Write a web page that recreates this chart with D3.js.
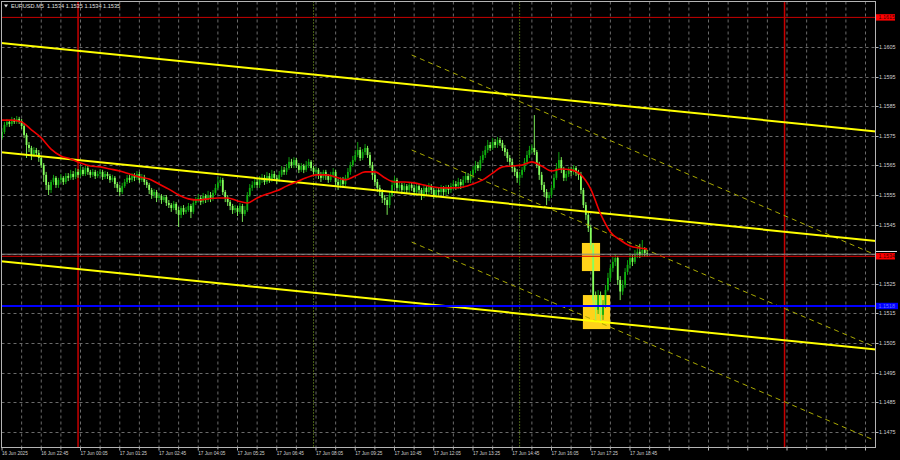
<!DOCTYPE html>
<html><head><meta charset="utf-8">
<script src="https://cdn.jsdelivr.net/npm/d3@7"></script>
<style>html,body{margin:0;padding:0;background:#000;}svg{display:block}</style>
</head><body>
<svg id="c" width="900" height="460"></svg>
<script>
const symbolTitle = "EURUSD.M5  1.1534 1.1535 1.1534 1.1535";
const firstOpen = 1.15743;
const closes = [
1.15763,1.15787,1.15797,1.15790,1.15803,1.15797,1.15807,1.15800,
1.15783,1.15753,1.15719,1.15709,1.15685,1.15702,1.15692,1.15675,
1.15651,1.15618,1.15584,1.15567,1.15594,1.15608,1.15584,1.15601,
1.15608,1.15594,1.15614,1.15608,1.15621,1.15611,1.15628,1.15618,
1.15635,1.15621,1.15641,1.15628,1.15618,1.15628,1.15614,1.15621,
1.15628,1.15611,1.15621,1.15614,1.15601,1.15608,1.15587,1.15574,
1.15560,1.15580,1.15594,1.15608,1.15601,1.15614,1.15608,1.15621,
1.15601,1.15611,1.15594,1.15584,1.15567,1.15550,1.15560,1.15540,
1.15547,1.15533,1.15543,1.15523,1.15516,1.15506,1.15520,1.15499,
1.15483,1.15506,1.15493,1.15499,1.15513,1.15493,1.15523,1.15533,
1.15540,1.15526,1.15547,1.15533,1.15550,1.15537,1.15557,1.15574,
1.15591,1.15601,1.15560,1.15540,1.15526,1.15513,1.15499,1.15506,
1.15493,1.15513,1.15486,1.15499,1.15550,1.15574,1.15584,1.15594,
1.15584,1.15601,1.15608,1.15594,1.15614,1.15601,1.15621,1.15608,
1.15601,1.15618,1.15635,1.15628,1.15641,1.15662,1.15651,1.15668,
1.15651,1.15635,1.15648,1.15635,1.15651,1.15662,1.15641,1.15628,
1.15635,1.15618,1.15608,1.15628,1.15614,1.15601,1.15618,1.15628,
1.15594,1.15584,1.15601,1.15587,1.15608,1.15628,1.15651,1.15668,
1.15685,1.15702,1.15675,1.15695,1.15709,1.15685,1.15651,1.15618,
1.15594,1.15574,1.15560,1.15540,1.15533,1.15516,1.15550,1.15584,
1.15601,1.15574,1.15584,1.15567,1.15580,1.15567,1.15584,1.15574,
1.15560,1.15580,1.15567,1.15550,1.15574,1.15560,1.15580,1.15567,
1.15550,1.15567,1.15560,1.15574,1.15560,1.15574,1.15567,1.15580,
1.15587,1.15580,1.15594,1.15584,1.15601,1.15614,1.15601,1.15618,
1.15635,1.15651,1.15641,1.15668,1.15685,1.15702,1.15719,1.15709,
1.15729,1.15719,1.15736,1.15726,1.15709,1.15695,1.15675,1.15662,
1.15641,1.15628,1.15608,1.15618,1.15635,1.15662,1.15685,1.15702,
1.15709,1.15695,1.15651,1.15618,1.15584,1.15560,1.15540,1.15550,
1.15574,1.15608,1.15641,1.15668,1.15635,1.15608,1.15621,1.15635,
1.15628,1.15641,1.15624,1.15618,1.15567,1.15516,1.15483,1.15439,
1.15381,1.15195,1.15162,1.15212,1.15145,1.15179,1.15229,1.15270,
1.15303,1.15324,1.15337,1.15263,1.15224,1.15246,1.15290,1.15314,
1.15337,1.15324,1.15347,1.15358,1.15347,1.15364,1.15354,1.15351];
const highs = [
1.15776,1.15797,1.15807,1.15803,1.15814,1.15810,1.15817,1.15814,
1.15807,1.15790,1.15759,1.15729,1.15716,1.15712,1.15709,1.15702,
1.15682,1.15658,1.15628,1.15594,1.15601,1.15618,1.15614,1.15608,
1.15621,1.15614,1.15624,1.15624,1.15635,1.15631,1.15641,1.15638,
1.15648,1.15645,1.15651,1.15651,1.15635,1.15638,1.15635,1.15631,
1.15638,1.15635,1.15631,1.15628,1.15621,1.15618,1.15614,1.15594,
1.15584,1.15591,1.15604,1.15618,1.15618,1.15624,1.15624,1.15631,
1.15628,1.15621,1.15618,1.15601,1.15591,1.15574,1.15570,1.15567,
1.15557,1.15553,1.15550,1.15550,1.15533,1.15523,1.15530,1.15526,
1.15510,1.15513,1.15516,1.15510,1.15523,1.15520,1.15533,1.15543,
1.15553,1.15547,1.15557,1.15553,1.15564,1.15560,1.15567,1.15587,
1.15611,1.15611,1.15608,1.15567,1.15550,1.15533,1.15520,1.15516,
1.15513,1.15523,1.15520,1.15513,1.15560,1.15587,1.15597,1.15608,
1.15604,1.15614,1.15621,1.15618,1.15628,1.15624,1.15635,1.15631,
1.15618,1.15631,1.15648,1.15645,1.15655,1.15678,1.15672,1.15678,
1.15675,1.15658,1.15658,1.15655,1.15665,1.15672,1.15668,1.15648,
1.15645,1.15641,1.15628,1.15635,1.15635,1.15621,1.15628,1.15641,
1.15635,1.15604,1.15611,1.15611,1.15618,1.15641,1.15662,1.15682,
1.15702,1.15729,1.15712,1.15705,1.15722,1.15716,1.15695,1.15662,
1.15628,1.15604,1.15584,1.15570,1.15550,1.15543,1.15560,1.15601,
1.15614,1.15608,1.15594,1.15591,1.15591,1.15587,1.15594,1.15594,
1.15584,1.15591,1.15587,1.15574,1.15584,1.15580,1.15591,1.15587,
1.15574,1.15577,1.15577,1.15584,1.15580,1.15584,1.15584,1.15591,
1.15601,1.15597,1.15608,1.15604,1.15614,1.15628,1.15624,1.15631,
1.15648,1.15665,1.15662,1.15682,1.15699,1.15716,1.15736,1.15729,
1.15743,1.15739,1.15746,1.15743,1.15736,1.15719,1.15705,1.15685,
1.15672,1.15651,1.15638,1.15628,1.15645,1.15675,1.15699,1.15716,
1.15722,1.15820,1.15702,1.15662,1.15628,1.15594,1.15570,1.15560,
1.15584,1.15621,1.15658,1.15695,1.15678,1.15645,1.15631,1.15645,
1.15645,1.15651,1.15648,1.15635,1.15628,1.15574,1.15526,1.15493,
1.15449,1.15388,1.15224,1.15229,1.15224,1.15195,1.15246,1.15287,
1.15317,1.15341,1.15351,1.15344,1.15276,1.15263,1.15303,1.15330,
1.15354,1.15347,1.15364,1.15371,1.15385,1.15398,1.15374,1.15364];
const lows = [
1.15736,1.15756,1.15780,1.15780,1.15783,1.15790,1.15790,1.15790,
1.15773,1.15743,1.15675,1.15695,1.15668,1.15678,1.15682,1.15662,
1.15641,1.15594,1.15567,1.15550,1.15557,1.15584,1.15574,1.15574,
1.15591,1.15584,1.15587,1.15597,1.15601,1.15601,1.15604,1.15608,
1.15611,1.15614,1.15614,1.15618,1.15608,1.15611,1.15604,1.15608,
1.15614,1.15601,1.15604,1.15604,1.15591,1.15594,1.15574,1.15560,
1.15547,1.15553,1.15574,1.15587,1.15591,1.15594,1.15597,1.15601,
1.15591,1.15594,1.15584,1.15574,1.15553,1.15537,1.15540,1.15526,
1.15533,1.15520,1.15526,1.15513,1.15506,1.15493,1.15499,1.15486,
1.15442,1.15472,1.15483,1.15486,1.15493,1.15472,1.15486,1.15516,
1.15526,1.15516,1.15520,1.15523,1.15526,1.15526,1.15530,1.15550,
1.15567,1.15580,1.15550,1.15526,1.15513,1.15499,1.15486,1.15489,
1.15479,1.15486,1.15459,1.15479,1.15493,1.15543,1.15564,1.15574,
1.15574,1.15574,1.15591,1.15584,1.15587,1.15591,1.15594,1.15597,
1.15587,1.15594,1.15611,1.15618,1.15618,1.15635,1.15641,1.15641,
1.15641,1.15624,1.15628,1.15624,1.15628,1.15641,1.15631,1.15618,
1.15614,1.15604,1.15594,1.15601,1.15601,1.15591,1.15594,1.15608,
1.15580,1.15567,1.15574,1.15574,1.15580,1.15601,1.15618,1.15645,
1.15662,1.15678,1.15665,1.15668,1.15685,1.15675,1.15641,1.15601,
1.15580,1.15560,1.15547,1.15523,1.15516,1.15483,1.15506,1.15543,
1.15574,1.15560,1.15564,1.15553,1.15557,1.15553,1.15557,1.15564,
1.15547,1.15550,1.15553,1.15533,1.15540,1.15547,1.15550,1.15553,
1.15537,1.15540,1.15547,1.15550,1.15547,1.15550,1.15553,1.15557,
1.15567,1.15567,1.15570,1.15570,1.15574,1.15591,1.15591,1.15591,
1.15608,1.15624,1.15631,1.15631,1.15658,1.15675,1.15692,1.15699,
1.15702,1.15709,1.15709,1.15716,1.15699,1.15682,1.15662,1.15648,
1.15628,1.15614,1.15591,1.15584,1.15608,1.15628,1.15651,1.15675,
1.15692,1.15685,1.15641,1.15601,1.15567,1.15543,1.15516,1.15530,
1.15540,1.15567,1.15601,1.15635,1.15624,1.15597,1.15597,1.15611,
1.15614,1.15618,1.15614,1.15601,1.15553,1.15506,1.15466,1.15425,
1.15364,1.15179,1.15128,1.15148,1.15121,1.15128,1.15168,1.15224,
1.15256,1.15290,1.15310,1.15246,1.15195,1.15212,1.15236,1.15280,
1.15303,1.15310,1.15317,1.15337,1.15337,1.15341,1.15341,1.15341];
// moving average read every 4 bars (last point = final bar)
const maValues = [
1.15803,1.15803,1.15797,1.15770,1.15743,1.15705,1.15682,1.15672,1.15658,1.15648,
1.15645,1.15638,1.15631,1.15621,1.15611,1.15604,1.15587,1.15570,1.15550,1.15537,
1.15533,1.15537,1.15540,1.15540,1.15530,1.15523,1.15540,1.15553,1.15564,1.15580,
1.15594,1.15608,1.15618,1.15618,1.15611,1.15601,1.15614,1.15628,1.15628,1.15608,
1.15594,1.15594,1.15591,1.15584,1.15577,1.15574,1.15574,1.15577,1.15587,1.15601,
1.15624,1.15645,1.15648,1.15651,1.15662,1.15648,1.15631,1.15638,1.15635,1.15618,
1.15570,1.15486,1.15425,1.15398,1.15378,1.15371,1.15368];
const timeLabels = ["16 Jun 2025","16 Jun 22:45","17 Jun 00:05","17 Jun 01:25","17 Jun 02:45","17 Jun 04:05","17 Jun 05:25","17 Jun 06:45","17 Jun 08:05","17 Jun 09:25","17 Jun 10:45","17 Jun 12:05","17 Jun 13:25","17 Jun 14:45","17 Jun 16:05","17 Jun 17:25","17 Jun 18:45"];
const priceTicks = [1.1605,1.1595,1.1585,1.1575,1.1565,1.1555,1.1545,1.1535,1.1525,1.1515,1.1505,1.1495,1.1485,1.1475];
const hiddenPriceLabel = 1.1535; // covered by the current-price label in the reference
const daySeparatorBars = [31, 319];
const sessionBars = [127, 211];
const solidChannel = [[0,1.16063,356,1.15765],[0,1.15694,356,1.15395],[0,1.15326,356,1.15028]];
const dashedChannel = [[167,1.16023,356.3,1.15347],[167,1.15702,356.3,1.15035],[167,1.15391,356.3,1.14719]];
const zones = [[236.4,243.8,1.15388,1.15293],[236.8,247.9,1.15212,1.15097]];
const topLevel = 1.1615, topLevelLabel = "1.1615";
const bidLevel = 1.15343, bidLabel = "1.1534";
const askLevel = 1.1535;
const supportLevel = 1.15175, supportLabel = "1.1518";

const W = 900, H = 460, L = 1.5, R = 875.5, T = 1.5, B = 447.5;
const x = d3.scaleLinear().domain([0, 288]).range([2, 708.5]);
const y = d3.scaleLinear().domain([1.1605, 1.1475]).range([47, 431.8]);
const FONT = "'Liberation Sans', Arial, sans-serif";
const svg = d3.select('#c');
svg.append('rect').attr('width', W).attr('height', H).attr('fill', '#000');
svg.append('defs').append('clipPath').attr('id', 'clip').append('rect')
  .attr('x', L).attr('y', T).attr('width', R - L).attr('height', B - T);
const g = svg.append('g').attr('clip-path', 'url(#clip)');

// grid
g.selectAll('.hg').data(priceTicks).join('line')
  .attr('x1', L).attr('x2', R).attr('y1', d => Math.round(y(d)) + 0.5).attr('y2', d => Math.round(y(d)) + 0.5)
  .attr('stroke', '#6a6a6a').attr('stroke-width', 1).attr('stroke-dasharray', '3,3');
const vGrid = d3.range(8, 360, 8);
g.selectAll('.vg').data(vGrid).join('line')
  .attr('x1', d => x(d)).attr('x2', d => x(d)).attr('y1', T).attr('y2', B)
  .attr('stroke', '#6a6a6a').attr('stroke-width', 1).attr('stroke-dasharray', '3,3');

// session markers
g.selectAll('.ss').data(sessionBars).join('line')
  .attr('x1', d => x(d)).attr('x2', d => x(d)).attr('y1', T).attr('y2', B)
  .attr('stroke', '#8fbf2a').attr('stroke-width', 1).attr('stroke-dasharray', '1,2');
// day separators
g.selectAll('.ds').data(daySeparatorBars).join('line')
  .attr('x1', d => x(d)).attr('x2', d => x(d)).attr('y1', T).attr('y2', B)
  .attr('stroke', '#c80000').attr('stroke-width', 1.5);

// zones
g.selectAll('.zn').data(zones).join('rect')
  .attr('x', d => x(d[0])).attr('width', d => x(d[1]) - x(d[0]))
  .attr('y', d => y(d[2])).attr('height', d => y(d[3]) - y(d[2]))
  .attr('fill', '#ffd21a');

// top level line
g.append('line').attr('x1', L).attr('x2', R).attr('y1', y(topLevel)).attr('y2', y(topLevel))
  .attr('stroke', '#c80000').attr('stroke-width', 1);

// candles
const bars = closes.map((c, i) => ({ i, o: i === 0 ? firstOpen : closes[i - 1], c, h: highs[i], l: lows[i] }));
const BULL = '#0fae0f', BEAR = '#86ff5e';
const cg = g.append('g');
cg.selectAll('.wk').data(bars).join('line')
  .attr('x1', d => x(d.i)).attr('x2', d => x(d.i)).attr('y1', d => y(d.h)).attr('y2', d => y(d.l))
  .attr('stroke', d => d.c >= d.o ? BULL : BEAR).attr('stroke-width', 0.9);
cg.selectAll('.bd').data(bars).join('rect')
  .attr('x', d => x(d.i) - 0.9).attr('width', 1.8)
  .attr('y', d => y(Math.max(d.o, d.c)))
  .attr('height', d => Math.max(0.7, Math.abs(y(d.o) - y(d.c))))
  .attr('fill', d => d.c >= d.o ? BULL : BEAR);

// dashed channel
g.selectAll('.dc').data(dashedChannel).join('line')
  .attr('x1', d => x(d[0])).attr('y1', d => y(d[1])).attr('x2', d => x(d[2])).attr('y2', d => y(d[3]))
  .attr('stroke', '#a8a800').attr('stroke-width', 1).attr('stroke-dasharray', '5,4');
// solid channel
g.selectAll('.sc').data(solidChannel).join('line')
  .attr('x1', d => x(d[0] - 2)).attr('y1', d => y(d[1] + (d[1] - d[3]) / (d[2] - d[0]) * 2))
  .attr('x2', d => x(d[2] + 2)).attr('y2', d => y(d[3] - (d[1] - d[3]) / (d[2] - d[0]) * 2))
  .attr('stroke', '#ffff00').attr('stroke-width', 2);

// moving average
const maBars = d3.range(0, 261, 4).concat([closes.length - 1]);
const maPts = maValues.map((v, k) => [maBars[k], v]);
g.append('path').datum(maPts)
  .attr('d', d3.line().x(d => x(d[0])).y(d => y(d[1])).curve(d3.curveMonotoneX))
  .attr('fill', 'none').attr('stroke', '#f00000').attr('stroke-width', 1.6);

// support and price lines
g.append('line').attr('x1', L).attr('x2', R).attr('y1', y(supportLevel)).attr('y2', y(supportLevel))
  .attr('stroke', '#0000ff').attr('stroke-width', 2.2);
g.append('line').attr('x1', L).attr('x2', R).attr('y1', y(askLevel)).attr('y2', y(askLevel))
  .attr('stroke', '#8a8a8a').attr('stroke-width', 1);
g.append('line').attr('x1', L).attr('x2', R).attr('y1', y(bidLevel)).attr('y2', y(bidLevel))
  .attr('stroke', '#e00000').attr('stroke-width', 1);

// frame
svg.append('rect').attr('x', L).attr('y', T).attr('width', R - L).attr('height', B - T)
  .attr('fill', 'none').attr('stroke', '#b4b4b4').attr('stroke-width', 1);

// price axis
svg.selectAll('.pt').data(priceTicks).join('line')
  .attr('x1', R).attr('x2', R + 3).attr('y1', d => Math.round(y(d)) + 0.5).attr('y2', d => Math.round(y(d)) + 0.5)
  .attr('stroke', '#b4b4b4');
svg.selectAll('.pl').data(priceTicks.filter(d => d !== hiddenPriceLabel)).join('text')
  .attr('x', 879).attr('y', d => y(d) + 2).text(d => d.toFixed(4))
  .attr('fill', '#d0d0d0').attr('font-size', 5.4).attr('font-family', FONT);

// time axis
svg.selectAll('.tt').data(vGrid.filter(d => x(d) < R).concat([0])).join('line')
  .attr('x1', d => x(d)).attr('x2', d => x(d)).attr('y1', B).attr('y2', d => d % 16 === 0 ? B + 3 : B + 2)
  .attr('stroke', '#b4b4b4');
svg.selectAll('.tl').data(timeLabels).join('text')
  .attr('x', (d, k) => x(k * 16)).attr('y', 455).text(d => d)
  .attr('fill', '#d0d0d0').attr('font-size', 4.7).attr('font-family', FONT);

// price labels on axis
function axisLabel(p, txt, bg, fg, w) {
  const yy = y(p);
  svg.append('rect').attr('x', 876).attr('y', yy - 3.2).attr('width', w).attr('height', 6.4).attr('fill', bg);
  svg.append('text').attr('x', 878.5).attr('y', yy + 2).text(txt)
    .attr('fill', fg).attr('font-size', 5.4).attr('font-family', FONT);
}
svg.append('line').attr('x1', 876).attr('x2', 897).attr('y1', y(bidLevel) - 4.8).attr('y2', y(bidLevel) - 4.8)
  .attr('stroke', '#e8e8e8').attr('stroke-width', 1);
axisLabel(topLevel, topLevelLabel, '#ff0000', '#400000', 19);
axisLabel(bidLevel, bidLabel, '#ff0000', '#400000', 19);
axisLabel(supportLevel, supportLabel, '#0000ff', '#6a78ff', 22);

// title
svg.append('path').attr('d', 'M4,4.5 L8,4.5 L6,7.5 Z').attr('fill', '#e0e0e0');
svg.append('text').attr('x', 11).attr('y', 8).text(symbolTitle)
  .style('white-space', 'pre')
  .attr('fill', '#e0e0e0').attr('font-size', 5.6).attr('font-family', FONT);
</script>
</body></html>
